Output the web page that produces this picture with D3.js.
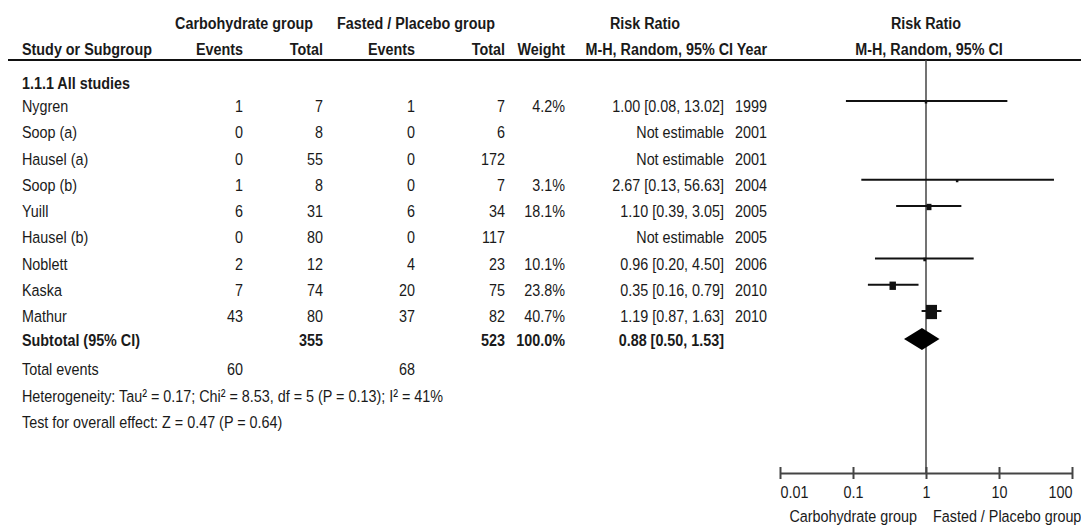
<!DOCTYPE html>
<html>
<head>
<meta charset="utf-8">
<script src="https://cdn.jsdelivr.net/npm/d3@7"></script>
<style>
  html, body { margin: 0; padding: 0; background: #fff; }
  svg text { font-family: "Liberation Sans", Arial, sans-serif; font-size: 17px; fill: #1a1a1a; }
  .b { font-weight: bold; }
</style>
</head>
<body>
<svg id="chart" width="1081" height="529"></svg>
<script>
// ---- data ----
const studies    = ["Nygren", "Soop (a)", "Hausel (a)", "Soop (b)", "Yuill", "Hausel (b)", "Noblett", "Kaska", "Mathur"];
const carbEvents = [1, 0, 0, 1, 6, 0, 2, 7, 43];
const carbTotal  = [7, 8, 55, 8, 31, 80, 12, 74, 80];
const fastEvents = [1, 0, 0, 0, 6, 0, 4, 20, 37];
const fastTotal  = [7, 6, 172, 7, 34, 117, 23, 75, 82];
const weights    = [4.2, null, null, 3.1, 18.1, null, 10.1, 23.8, 40.7];
const rr         = [1.00, null, null, 2.67, 1.10, null, 0.96, 0.35, 1.19];
const ciLow      = [0.08, null, null, 0.13, 0.39, null, 0.20, 0.16, 0.87];
const ciHigh     = [13.02, null, null, 56.63, 3.05, null, 4.50, 0.79, 1.63];
const years      = [1999, 2001, 2001, 2004, 2005, 2005, 2006, 2010, 2010];
const subtotalTotals = [355, 523];
const subtotalWeight = 100.0;
const subtotalRR = [0.88, 0.50, 1.53];   // estimate, low, high
const totalEvents = [60, 68];
const heterogeneityText = "Heterogeneity: Tau² = 0.17; Chi² = 8.53, df = 5 (P = 0.13); I² = 41%";
const overallText = "Test for overall effect: Z = 0.47 (P = 0.64)";
const axisTicks = [0.01, 0.1, 1, 10, 100];
const tickLabels = ["0.01", "0.1", "1", "10", "100"];
const favourLabels = ["Carbohydrate group", "Fasted / Placebo group"];

// ---- layout ----
const svg = d3.select("#chart");
const f2 = d3.format(".2f");
const ciText = (m, l, h) => `${f2(m)} [${f2(l)}, ${f2(h)}]`;
const SX = 0.845; // narrow-font horizontal compression

const rowY = d3.scaleLinear().domain([0, studies.length - 1]).range([106, 316]);
const x = d3.scaleLog().domain([0.01, 100]).range([780, 1072]);
const BL = 6; // baseline offset from text centre

const col = { study: 22, cEv: 243, cTot: 323, fEv: 415, fTot: 505, weight: 565, ci: 724, year: 767 };

function txt(xp, yc, s, anchor, bold) {
  return svg.append("text")
    .attr("transform", `translate(${xp},${yc + BL}) scale(${SX},1)`)
    .attr("text-anchor", anchor || "start")
    .attr("class", bold ? "b" : null)
    .text(s);
}

// header
txt(244, 23, "Carbohydrate group", "middle", true);
txt(416, 23, "Fasted / Placebo group", "middle", true);
txt(645, 23, "Risk Ratio", "middle", true);
txt(926, 23, "Risk Ratio", "middle", true);
txt(col.study, 49, "Study or Subgroup", "start", true);
txt(col.cEv, 49, "Events", "end", true);
txt(col.cTot, 49, "Total", "end", true);
txt(col.fEv, 49, "Events", "end", true);
txt(col.fTot, 49, "Total", "end", true);
txt(col.weight, 49, "Weight", "end", true);
txt(733, 49, "M-H, Random, 95% CI", "end", true);
txt(col.year, 49, "Year", "end", true);
txt(929, 49, "M-H, Random, 95% CI", "middle", true);

svg.append("line").attr("x1", 8).attr("x2", 1081).attr("y1", 60).attr("y2", 60)
  .attr("stroke", "#111").attr("stroke-width", 2);

txt(col.study, 83, "1.1.1 All studies", "start", true);

// study rows
const rows = svg.append("g").selectAll("g").data(studies).join("g");
rows.each(function(d, i) {
  const y = rowY(i);
  txt(col.study, y, d);
  txt(col.cEv, y, carbEvents[i], "end");
  txt(col.cTot, y, carbTotal[i], "end");
  txt(col.fEv, y, fastEvents[i], "end");
  txt(col.fTot, y, fastTotal[i], "end");
  if (weights[i] != null) txt(col.weight, y, weights[i].toFixed(1) + "%", "end");
  txt(col.ci, y, rr[i] != null ? ciText(rr[i], ciLow[i], ciHigh[i]) : "Not estimable", "end");
  txt(col.year, y, years[i], "end");
});

// subtotal rows
const ySub = 340;
txt(col.study, ySub, "Subtotal (95% CI)", "start", true);
txt(col.cTot, ySub, subtotalTotals[0], "end", true);
txt(col.fTot, ySub, subtotalTotals[1], "end", true);
txt(col.weight, ySub, subtotalWeight.toFixed(1) + "%", "end", true);
txt(col.ci, ySub, ciText(subtotalRR[0], subtotalRR[1], subtotalRR[2]), "end", true);

txt(col.study, 369, "Total events");
txt(col.cEv, 369, totalEvents[0], "end");
txt(col.fEv, 369, totalEvents[1], "end");
txt(col.study, 396, heterogeneityText);
txt(col.study, 422, overallText);

// ---- forest plot ----
const axisY = 473;
const plot = svg.append("g");
plot.append("line")
  .attr("x1", x(1)).attr("x2", x(1)).attr("y1", 60).attr("y2", axisY)
  .attr("stroke", "#444").attr("stroke-width", 1.5);

const est = studies.map((s, i) => i).filter(i => rr[i] != null);
plot.selectAll("line.ci").data(est).join("line").attr("class", "ci")
  .attr("x1", i => x(ciLow[i])).attr("x2", i => x(ciHigh[i]))
  .attr("y1", i => rowY(i) - 5).attr("y2", i => rowY(i) - 5)
  .attr("stroke", "#111").attr("stroke-width", 2);

const boxW = w => Math.max(2.5, 0.27 * w);
const boxH = w => Math.max(3, 0.35 * w);
plot.selectAll("rect.box").data(est).join("rect").attr("class", "box")
  .attr("x", i => x(rr[i]) - boxW(weights[i]) / 2)
  .attr("y", i => rowY(i) - 4 - boxH(weights[i]) / 2)
  .attr("width", i => boxW(weights[i]))
  .attr("height", i => boxH(weights[i]))
  .attr("fill", "#111");

// diamond
const dY = ySub - 1, dH = 11;
plot.append("path")
  .attr("d", `M${x(subtotalRR[1])},${dY} L${x(subtotalRR[0])},${dY - dH} L${x(subtotalRR[2])},${dY} L${x(subtotalRR[0])},${dY + dH} Z`)
  .attr("fill", "#000");

// axis
const axis = d3.axisBottom(x).tickValues(axisTicks).tickFormat((d, i) => tickLabels[i]).tickSize(0);
const ag = svg.append("g").attr("transform", `translate(0,${axisY})`).call(axis);
ag.attr("font-family", null).attr("font-size", null);
ag.select(".domain").attr("stroke", "#444").attr("stroke-width", 2);
ag.selectAll(".tick line").attr("y1", -6).attr("y2", 6).attr("stroke", "#444").attr("stroke-width", 2);
ag.selectAll(".tick text")
  .attr("y", 0).attr("dy", null)
  .attr("transform", `translate(0,${492 - axisY + BL}) scale(${SX},1)`)
  .attr("text-anchor", (d, i) => i === 0 ? "start" : (i === axisTicks.length - 1 ? "end" : "middle"))
  .attr("fill", "#1a1a1a");

txt(x(1) - 9, 516, favourLabels[0], "end");
txt(x(1) + 7, 516, favourLabels[1], "start");
</script>
</body>
</html>
